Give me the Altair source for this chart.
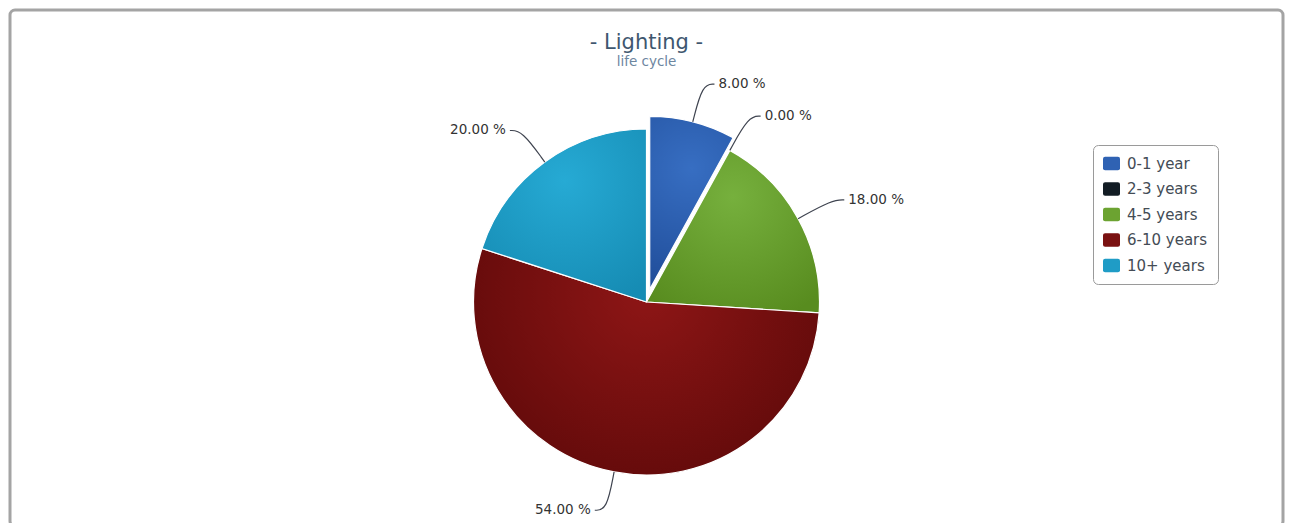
import altair as alt
import pandas as pd

# ---- data ----
CATEGORIES = ["0-1 year", "2-3 years", "4-5 years", "6-10 years", "10+ years"]
VALUES = [8, 0, 18, 54, 20]
COLORS = ["#2f62b3", "#121c24", "#6ca331", "#7a1111", "#1f9cc6"]
LIGHT = ["#376ec2", "#22323d", "#76b03d", "#8e1616", "#26aad4"]
DARK = ["#1f4c98", "#070e13", "#588c1f", "#560707", "#168cb4"]
SLICED = "0-1 year"
TITLE = "- Lighting -"
SUBTITLE = "life cycle"

# ---- layout / style constants ----
W, H = 1273, 516
CX, CY = 636.5, 292
R = 173
SLICE_OFF = 13
LABEL_R = 212
RUN = 12
FONT = "DejaVu Sans"

df = pd.DataFrame({"idx": list(range(len(CATEGORIES))), "category": CATEGORIES, "value": VALUES})

xs = alt.Scale(domain=[-CX, W - CX], nice=False, zero=False)
ys = alt.Scale(domain=[-CY, H - CY], nice=False, zero=False, reverse=True)

base = (
    alt.Chart(df)
    .transform_joinaggregate(total="sum(value)")
    .transform_window(cum="sum(value)", sort=[alt.SortField("idx")], frame=[None, 0])
    .transform_calculate(a0="(datum.cum - datum.value) / datum.total * 2 * PI")
    .transform_calculate(a1="datum.cum / datum.total * 2 * PI")
    .transform_calculate(mid="(datum.cum - datum.value / 2) / datum.total * 2 * PI")
    .transform_calculate(off=f"datum.category == '{SLICED}' ? {SLICE_OFF} : 0")
    .transform_calculate(ox="datum.off * sin(datum.mid)")
    .transform_calculate(oy="-datum.off * cos(datum.mid)")
    .transform_calculate(side="sin(datum.mid) >= 0 ? 1 : -1")
)

pos = dict(
    x=alt.X("ox:Q", scale=xs, axis=None),
    y=alt.Y("oy:Q", scale=ys, axis=None),
    theta=alt.Theta("a0:Q", scale=None),
    theta2="a1:Q",
)

ROUNDED = ("M -0.75 -0.8 L 0.75 -0.8 Q 1 -0.8 1 -0.55 L 1 0.55 Q 1 0.8 0.75 0.8 "
           "L -0.75 0.8 Q -1 0.8 -1 0.55 L -1 -0.55 Q -1 -0.8 -0.75 -0.8 Z")

arcs = base.transform_filter("datum.value > 0").mark_arc(
    outerRadius=R, stroke="white", strokeWidth=1.2
).encode(
    **pos,
    color=alt.Color(
        "category:N",
        sort=CATEGORIES,
        scale=alt.Scale(domain=CATEGORIES, range=COLORS),
        legend=alt.Legend(
            title=None, orient="none", legendX=1083, legendY=135, direction="vertical",
            fillColor="white", strokeColor="#9a9a9a", cornerRadius=5, padding=10,
            symbolType=ROUNDED, symbolSize=289, symbolStrokeWidth=0, symbolOpacity=1,
            labelFont=FONT, labelFontSize=15, labelColor="#444c55", labelOffset=7,
            rowPadding=8.5,
        ),
    ),
)

grads = []
for cat, val, lc, dc in zip(CATEGORIES, VALUES, LIGHT, DARK):
    if val <= 0:
        continue
    grad = {
        "gradient": "radial", "x1": 0.5, "y1": 0.3, "r1": 0,
        "x2": 0.5, "y2": 0.3, "r2": 0.75,
        "stops": [{"offset": 0, "color": lc}, {"offset": 1, "color": dc}],
    }
    grads.append(
        base.transform_filter(alt.datum.category == cat)
        .mark_arc(outerRadius=R, fill=grad, stroke="white", strokeWidth=1.2)
        .encode(**pos)
    )

conn = (
    base.transform_calculate(steps="[0, 1, 2]")
    .transform_flatten(["steps"])
    .transform_calculate(rr=f"datum.steps == 0 ? {R} : {LABEL_R}")
    .transform_calculate(
        px=f"datum.ox + datum.rr * sin(datum.mid) + (datum.steps == 2 ? datum.side * {RUN} : 0)"
    )
    .transform_calculate(py="datum.oy - datum.rr * cos(datum.mid)")
    .mark_line(interpolate="basis", color="#3f4450", strokeWidth=1.2)
    .encode(
        x=alt.X("px:Q", scale=xs, axis=None),
        y=alt.Y("py:Q", scale=ys, axis=None),
        detail="category:N",
        order="steps:Q",
    )
)

lab = (
    base.transform_calculate(lx=f"datum.ox + {LABEL_R} * sin(datum.mid) + datum.side * {RUN + 4}")
    .transform_calculate(ly=f"datum.oy - {LABEL_R} * cos(datum.mid)")
    .transform_calculate(lbl="format(datum.value, '.2f') + ' %'")
)
lab_enc = dict(
    x=alt.X("lx:Q", scale=xs, axis=None),
    y=alt.Y("ly:Q", scale=ys, axis=None),
    text="lbl:N",
)
right = lab.transform_filter("datum.side > 0").mark_text(
    align="left", baseline="middle", font=FONT, fontSize=13.5, color="#333333"
).encode(**lab_enc)
left = lab.transform_filter("datum.side < 0").mark_text(
    align="right", baseline="middle", font=FONT, fontSize=13.5, color="#333333"
).encode(**lab_enc)

chart = (
    alt.layer(arcs, *grads, conn, right, left)
    .properties(
        width=W,
        height=H,
        background="white",
        autosize=alt.AutoSizeParams(type="none"),
        padding={"left": 10, "top": 10, "right": 10, "bottom": -3},
        title=alt.TitleParams(
            text=TITLE, subtitle=SUBTITLE, anchor="middle", frame="group",
            font=FONT, fontSize=21, fontWeight="normal", color="#3e576f",
            subtitleFont=FONT, subtitleFontSize=13.5, subtitleColor="#6d869f",
            subtitlePadding=2, offset=-58,
        ),
    )
    .configure_view(stroke="#a4a4a4", strokeWidth=3, strokeOpacity=1, cornerRadius=5)
)

chart.save("out.html", embed_options={"renderer": "svg", "actions": False})
